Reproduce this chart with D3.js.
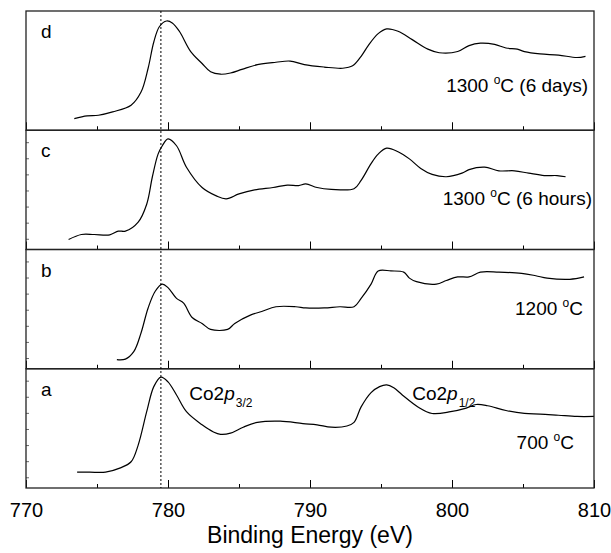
<!DOCTYPE html>
<html>
<head>
<meta charset="utf-8">
<script src="https://cdnjs.cloudflare.com/ajax/libs/d3/7.8.5/d3.min.js"></script>
<style>
    body { margin: 0; background: #fff; }
    text { font-family: "Liberation Sans", Arial, sans-serif; fill: #000; }
</style>
</head>
<body>
<div id="chart"></div>
<script>
// Panel letters and temperature labels (top panel first)
const panelLetters = ["d", "c", "b", "a"];
const panelLabels = [["1300 ", "C (6 days)"], ["1300 ", "C (6 hours)"], ["1200 ", "C"], ["700 ", "C"]];

// Spectra: [binding energy (eV), normalised intensity]
const spectrumD = [
    [773.4, 0.098], [774.3, 0.12], [775.1, 0.126], [776.1, 0.154], [777.4, 0.21], [778.1, 0.32],
    [778.6, 0.52], [779.0, 0.74], [779.4, 0.87], [779.9, 0.916], [780.3, 0.90], [780.8, 0.83],
    [781.6, 0.66], [782.4, 0.56], [783.0, 0.49], [783.7, 0.47], [784.4, 0.48], [785.2, 0.51],
    [786.3, 0.55], [787.6, 0.57], [788.6, 0.58], [789.6, 0.55], [791.0, 0.53], [792.3, 0.52],
    [793.0, 0.54], [793.6, 0.62], [794.1, 0.71], [794.8, 0.81], [795.4, 0.85], [796.2, 0.83],
    [797.2, 0.76], [798.3, 0.68], [799.1, 0.65], [800.4, 0.66], [801.2, 0.71], [802.0, 0.73],
    [803.0, 0.72], [803.8, 0.69], [804.6, 0.68], [805.1, 0.66], [806.2, 0.64], [807.5, 0.63],
    [808.8, 0.61], [809.4, 0.62]
];
const spectrumC = [
    [773.0, 0.084], [773.9, 0.126], [774.8, 0.126], [775.9, 0.123], [776.5, 0.154], [777.0, 0.154],
    [777.9, 0.23], [778.5, 0.38], [778.9, 0.61], [779.3, 0.80], [779.6, 0.87], [780.0, 0.927],
    [780.6, 0.87], [781.3, 0.69], [782.4, 0.52], [783.4, 0.45], [784.1, 0.425], [785.0, 0.466],
    [786.1, 0.50], [787.4, 0.52], [788.4, 0.54], [789.2, 0.536], [789.7, 0.55], [790.5, 0.52],
    [791.5, 0.505], [793.1, 0.51], [793.6, 0.58], [794.3, 0.72], [794.8, 0.80], [795.4, 0.85],
    [796.2, 0.82], [797.0, 0.76], [797.8, 0.68], [798.6, 0.63], [799.6, 0.61], [800.7, 0.64],
    [801.2, 0.67], [802.3, 0.69], [803.3, 0.66], [804.4, 0.66], [805.4, 0.64], [806.5, 0.62],
    [807.4, 0.62], [808.0, 0.61]
];
const spectrumB = [
    [776.4, 0.076], [777.0, 0.081], [777.6, 0.146], [778.1, 0.30], [778.6, 0.51], [779.1, 0.65],
    [779.6, 0.71], [780.0, 0.68], [780.6, 0.59], [781.1, 0.55], [781.7, 0.43], [782.4, 0.38],
    [783.0, 0.33], [784.2, 0.33], [784.7, 0.38], [785.8, 0.45], [786.6, 0.48], [787.6, 0.52],
    [789.0, 0.52], [789.7, 0.51], [791.0, 0.51], [792.1, 0.52], [793.1, 0.52], [793.6, 0.59],
    [794.3, 0.71], [794.8, 0.82], [795.7, 0.82], [796.6, 0.81], [797.0, 0.76], [797.5, 0.73],
    [798.9, 0.71], [799.6, 0.74], [800.4, 0.77], [801.2, 0.77], [802.0, 0.81], [803.3, 0.81],
    [804.9, 0.80], [805.9, 0.78], [806.7, 0.76], [808.3, 0.75], [809.3, 0.77]
];
const spectrumA = [
    [773.6, 0.133], [774.5, 0.133], [775.6, 0.133], [776.6, 0.167], [777.4, 0.22], [777.9, 0.36],
    [778.5, 0.64], [779.0, 0.85], [779.5, 0.93], [780.0, 0.89], [780.6, 0.78], [781.3, 0.64],
    [782.4, 0.53], [783.2, 0.47], [783.7, 0.45], [784.4, 0.46], [785.3, 0.51], [786.3, 0.55],
    [787.9, 0.56], [789.5, 0.54], [790.5, 0.53], [791.5, 0.51], [792.6, 0.52], [793.1, 0.55],
    [793.6, 0.68], [794.3, 0.80], [794.9, 0.85], [795.4, 0.865], [795.9, 0.84], [796.5, 0.78],
    [797.6, 0.68], [798.6, 0.625], [799.9, 0.64], [801.0, 0.67], [801.7, 0.70], [802.5, 0.69],
    [803.8, 0.65], [805.1, 0.625], [806.2, 0.62], [807.5, 0.61], [808.8, 0.60], [810.0, 0.60]
];
const spectra = [spectrumD, spectrumC, spectrumB, spectrumA];

// Axis settings
const xDomain = [770, 810];
const xMajorTicks = [770, 780, 790, 800, 810];
const xMinorTicks = [775, 785, 795, 805];
const yTickValues = [0.09, 0.225, 0.36, 0.495, 0.63, 0.765, 0.9];
const peakEnergy = 779.5;
const peakLabels = [{ e: 781.5, base: "Co2", sub: "3/2" }, { e: 797.2, base: "Co2", sub: "1/2" }];

class StackedSpectra {

    constructor(parentElement) {
        this.parentElement = parentElement;
        this.initVis();
    }

    initVis() {
        let vis = this;

        vis.margin = { top: 11, right: 17, bottom: 65, left: 26 };
        vis.width = 611 - vis.margin.left - vis.margin.right;
        vis.height = 553 - vis.margin.top - vis.margin.bottom;
        vis.panelHeight = vis.height / spectra.length;

        vis.svg = d3.select("#" + vis.parentElement).append("svg")
            .attr("width", 611)
            .attr("height", 553)
            .append("g")
            .attr("transform", `translate(${vis.margin.left}, ${vis.margin.top})`);

        vis.x = d3.scaleLinear().domain(xDomain).range([0, vis.width]);
        vis.y = d3.scaleLinear().domain([0, 1]).range([vis.panelHeight, 0]);

        vis.line = d3.line()
            .x(d => vis.x(d[0]))
            .y(d => vis.y(d[1]))
            .curve(d3.curveCatmullRom.alpha(0.5));

        vis.updateVis();
    }

    updateVis() {
        let vis = this;

        let panels = vis.svg.selectAll(".panel")
            .data(spectra)
            .enter()
            .append("g")
            .attr("class", "panel")
            .attr("transform", (d, i) => `translate(0, ${i * vis.panelHeight})`);

        // Bottom ticks of each panel, pointing inward
        panels.each(function (d, i) {
            let g = d3.select(this);
            let xAxis = d3.axisBottom(vis.x)
                .tickValues(xMajorTicks)
                .tickSize(-8)
                .tickFormat(i === spectra.length - 1 ? d3.format("d") : "");
            let ax = g.append("g")
                .attr("transform", `translate(0, ${vis.panelHeight})`)
                .call(xAxis);
            ax.select(".domain").remove();
            ax.selectAll("line").attr("stroke", "#000").attr("stroke-width", 1);
            ax.selectAll("text")
                .attr("dy", "1.3em")
                .style("font-size", "20px");

            let minor = g.append("g")
                .attr("transform", `translate(0, ${vis.panelHeight})`)
                .call(d3.axisBottom(vis.x).tickValues(xMinorTicks).tickSize(-4).tickFormat(""));
            minor.select(".domain").remove();
            minor.selectAll("line").attr("stroke", "#000").attr("stroke-width", 1);

            if (i > 0) {
                let yAxis = g.append("g")
                    .call(d3.axisLeft(vis.y).tickValues(yTickValues).tickSize(-3).tickFormat(""));
                yAxis.select(".domain").remove();
                yAxis.selectAll("line").attr("stroke", "#444").attr("stroke-width", 0.8);
            }
        });

        // Spectra
        panels.append("path")
            .attr("d", d => vis.line(d))
            .attr("fill", "none")
            .attr("stroke", "#000")
            .attr("stroke-width", 1.2);

        // Panel frames
        panels.append("rect")
            .attr("width", vis.width)
            .attr("height", vis.panelHeight)
            .attr("fill", "none")
            .attr("stroke", "#222")
            .attr("stroke-width", 1.3);

        // Panel letters
        panels.append("text")
            .attr("x", 15)
            .attr("y", 27)
            .style("font-size", "19px")
            .text((d, i) => panelLetters[i]);

        // Temperature labels with superscript degree sign
        let labelY = [81, 75, 65, 80];
        let labelX = [562, 566, 557, 548];
        let lab = panels.append("text")
            .attr("x", (d, i) => labelX[i])
            .attr("y", (d, i) => labelY[i])
            .attr("text-anchor", "end")
            .style("font-size", "19px");
        lab.append("tspan").text((d, i) => panelLabels[i][0]);
        lab.append("tspan").attr("dy", -8).style("font-size", "12px").text("o");
        lab.append("tspan").attr("dy", 8).text((d, i) => panelLabels[i][1]);

        // Peak labels in the bottom panel
        let bottom = d3.select(panels.nodes()[spectra.length - 1]);
        peakLabels.forEach(p => {
            let t = bottom.append("text")
                .attr("x", vis.x(p.e))
                .attr("y", 31)
                .style("font-size", "19px");
            t.append("tspan").text(p.base);
            t.append("tspan").style("font-style", "italic").text("p");
            t.append("tspan").attr("dx", 1).attr("dy", 7).style("font-size", "12px").text(p.sub);
        });

        // Dotted reference line through all panels
        vis.svg.append("line")
            .attr("x1", vis.x(peakEnergy))
            .attr("x2", vis.x(peakEnergy))
            .attr("y1", 0)
            .attr("y2", vis.height)
            .attr("stroke", "#000")
            .attr("stroke-width", 1)
            .attr("stroke-dasharray", "2,2");

        // Axis title
        vis.svg.append("text")
            .attr("x", vis.width / 2)
            .attr("y", vis.height + 55)
            .attr("text-anchor", "middle")
            .style("font-size", "23px")
            .text("Binding Energy (eV)");
    }
}

new StackedSpectra("chart");
</script>
</body>
</html>
